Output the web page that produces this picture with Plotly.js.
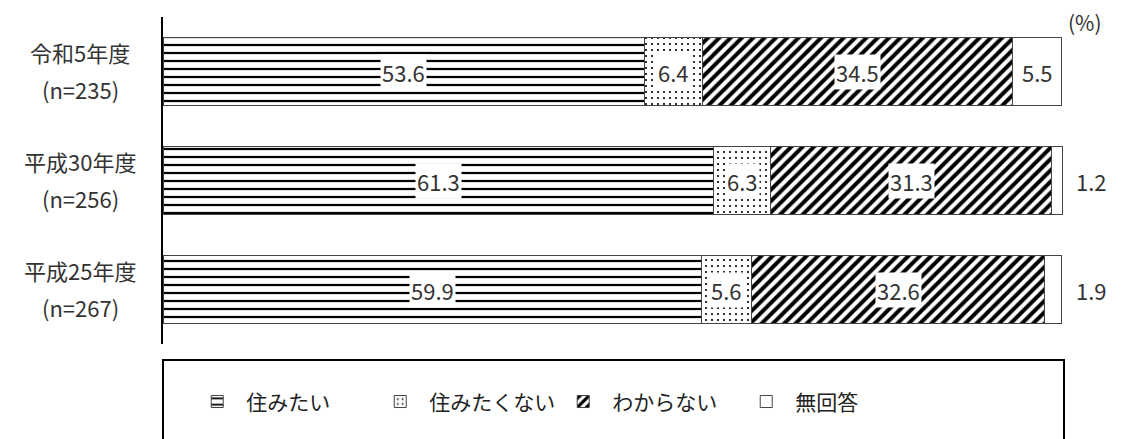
<!DOCTYPE html>
<html>
<head>
<meta charset="utf-8">
<script src="https://cdn.plot.ly/plotly-3.0.1.min.js"></script>
<style>
  html, body { margin: 0; padding: 0; background: #fff; }
  #chart { width: 1124px; height: 439px; }
</style>
</head>
<body>
<div id="chart"></div>
<script>
// survey years, top to bottom
const years = ['令和5年度', '平成30年度', '平成25年度'];
const counts = ['(n=235)', '(n=256)', '(n=267)'];

// answer shares (%)
const wantLive = [53.6, 61.3, 59.9];      // 住みたい
const notWantLive = [6.4, 6.3, 5.6];      // 住みたくない
const dontKnow = [34.5, 31.3, 32.6];      // わからない
const noAnswer = [5.5, 1.2, 1.9];         // 無回答

const FONT = '"Noto Sans CJK JP", "Noto Sans", sans-serif';
const TEXT_COLOR = '#333';

const series = [
    { name: '住みたい', values: wantLive, pattern: { shape: '-', size: 8, solidity: 0.28 } },
    { name: '住みたくない', values: notWantLive, pattern: { shape: '.', size: 6, solidity: 0.1 } },
    { name: 'わからない', values: dontKnow, pattern: { shape: '/', size: 8, solidity: 0.5 } },
    { name: '無回答', values: noAnswer, pattern: { shape: '' } }
];

const traces = series.map(s => ({
    type: 'bar',
    orientation: 'h',
    name: s.name,
    x: s.values,
    y: years,
    hoverinfo: 'skip',
    marker: {
        color: '#fff',
        line: { color: '#444', width: 1 },
        pattern: Object.assign({ fgcolor: '#000', bgcolor: '#fff', fillmode: 'replace' }, s.pattern)
    }
}));

// value labels with white boxes, centred in each segment
const annotations = [];
years.forEach((yr, i) => {
    let start = 0;
    series.forEach(s => {
        const v = s.values[i];
        const small = v < 3;
        annotations.push({
            x: small ? 100 : start + v / 2,
            y: yr, xref: 'x', yref: 'y',
            text: v.toFixed(1),
            showarrow: false,
            xanchor: small ? 'left' : 'center',
            xshift: small ? 12 : 0,
            bgcolor: small ? 'rgba(0,0,0,0)' : '#fff',
            borderpad: 1,
            font: { family: FONT, size: 22, color: TEXT_COLOR }
        });
        start += v;
    });
    // category labels, two lines
    annotations.push({
        x: -0.092, y: yr, xref: 'paper', yref: 'y', yshift: 20,
        text: yr, showarrow: false, xanchor: 'center',
        font: { family: FONT, size: 22, color: TEXT_COLOR }
    });
    annotations.push({
        x: -0.092, y: yr, xref: 'paper', yref: 'y', yshift: -17,
        text: counts[i], showarrow: false, xanchor: 'center',
        font: { family: FONT, size: 22, color: TEXT_COLOR }
    });
});

annotations.push({
    x: 1.023, y: 1.0, xref: 'paper', yref: 'paper',
    text: '(%)', showarrow: false, xanchor: 'center', yanchor: 'middle', yshift: -5,
    font: { family: FONT, size: 21, color: TEXT_COLOR }
});

const layout = {
    width: 1124,
    height: 439,
    margin: { l: 163, r: 60, t: 17, b: 95 },
    paper_bgcolor: '#fff',
    plot_bgcolor: '#fff',
    barmode: 'stack',
    bargap: 0.37,
    showlegend: true,
    legend: {
        orientation: 'h',
        x: 0.028, y: -0.177,
        xanchor: 'left', yanchor: 'middle',
        traceorder: 'normal',
        font: { family: FONT, size: 21, color: '#222' },
        itemwidth: 48,
        entrywidth: 120,
        entrywidthmode: 'pixels',
        bgcolor: 'rgba(0,0,0,0)'
    },
    xaxis: {
        range: [0, 100.25],
        visible: false,
        fixedrange: true
    },
    yaxis: {
        autorange: 'reversed',
        showticklabels: false,
        ticks: '',
        showgrid: false,
        zeroline: false,
        showline: true,
        linecolor: '#000',
        linewidth: 2,
        fixedrange: true
    },
    shapes: [
        // legend frame
        {
            type: 'rect', xref: 'paper', yref: 'paper',
            x0: 0, x1: 1, y0: -0.32, y1: -0.049,
            line: { color: '#000', width: 2 }
        }
    ],
    annotations: annotations
};

Plotly.newPlot('chart', traces, layout, { displayModeBar: false, staticPlot: true });
</script>
</body>
</html>
